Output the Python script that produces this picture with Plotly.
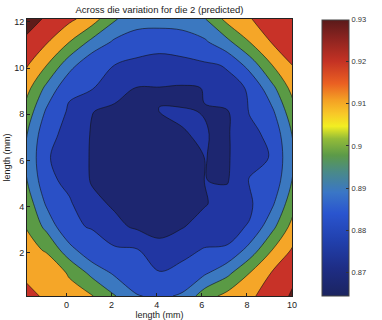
import plotly.graph_objects as go

# Grid coordinates (mm)
X_MM = [-1.875, -0.875, 0.125, 1.125, 2.125, 3.125, 4.125, 5.125, 6.125, 7.125, 8.125, 9.125, 10.125]
Y_MM = [12.125, 11.125, 10.125, 9.125, 8.125, 7.125, 6.125, 5.125, 4.125, 3.125, 2.125, 1.125, 0.125]

# Predicted value on the die (rows listed top -> bottom, matching Y_MM)
Z = [
    [.9244, .9188, .9138, .9081, .8965, .8930, .8930, .8935, .8955, .9065, .9115, .9165, .9190],
    [.9188, .9126, .9040, .8938, .8867, .8821, .8805, .8821, .8867, .8938, .9040, .9126, .9165],
    [.9138, .9040, .8910, .8815, .8800, .8790, .8795, .8788, .8789, .8805, .8910, .9040, .9125],
    [.9081, .8938, .8815, .8805, .8750, .8716, .8716, .8710, .8722, .8782, .8805, .8938, .9081],
    [.9026, .8867, .8789, .8722, .8705, .8690, .8721, .8722, .8719, .8714, .8805, .8867, .9026],
    [.8981, .8821, .8779, .8714, .8693, .8670, .8660, .8719, .8722, .8712, .8779, .8821, .8981],
    [.8966, .8805, .8775, .8712, .8685, .8660, .8650, .8660, .8721, .8712, .8775, .8805, .8966],
    [.8981, .8821, .8779, .8714, .8693, .8670, .8660, .8670, .8721, .8714, .8805, .8821, .8981],
    [.9026, .8867, .8810, .8740, .8710, .8690, .8685, .8693, .8714, .8753, .8789, .8867, .9026],
    [.9045, .8938, .8805, .8798, .8740, .8708, .8705, .8715, .8753, .8782, .8805, .8938, .9081],
    [.9075, .9030, .8910, .8815, .8812, .8805, .8735, .8779, .8805, .8805, .8910, .9040, .9138],
    [.9105, .9100, .9030, .8938, .8867, .8821, .8805, .8821, .8867, .8938, .9040, .9126, .9188],
    [.9150, .9105, .9075, .9045, .8966, .8885, .8865, .8890, .9005, .9065, .9105, .9160, .9215],
]

LEVEL_START = 0.872
LEVEL_END = 0.920
LEVEL_STEP = 0.008

CBAR_MIN = 0.8645
CBAR_MAX = 0.93
CBAR_TICKS = [0.87, 0.88, 0.89, 0.90, 0.91, 0.92, 0.93]
CBAR_TICKTEXT = ["0.87", "0.88", "0.89", "0.9", "0.91", "0.92", "0.93"]

X_TICKS = [0, 2, 4, 6, 8, 10]
Y_TICKS = [2, 4, 6, 8, 10, 12]

BAND_COLORS = ["#1d2670", "#2136a2", "#2a50c6", "#3b78c0", "#5a9a45", "#f5a628", "#c83228", "#5e1c1a"]
n = len(BAND_COLORS) - 1
band_scale = [[i / n, c] for i, c in enumerate(BAND_COLORS)]

JET = [
    [0.0, "#1b2460"], [0.10, "#1e2d85"], [0.20, "#2140ad"], [0.30, "#2a55cf"],
    [0.375, "#3a76c6"], [0.45, "#4a8a88"], [0.51, "#5c9a48"], [0.57, "#94bc38"],
    [0.615, "#f2ee22"], [0.66, "#f8c828"], [0.71, "#f4a024"], [0.77, "#ea6022"],
    [0.85, "#c43224"], [0.93, "#8e2420"], [1.0, "#5a1a1a"],
]

FONT = "Liberation Sans, Arial, sans-serif"

fig = go.Figure()
fig.add_trace(go.Contour(
    x=X_MM, y=Y_MM, z=Z,
    contours=dict(start=LEVEL_START, end=LEVEL_END, size=LEVEL_STEP, coloring="fill"),
    colorscale=band_scale,
    line=dict(color="#111111", width=0.6, smoothing=1.0),
    showscale=False,
    hoverinfo="skip",
))
fig.add_trace(go.Scatter(
    x=[None], y=[None], mode="markers", showlegend=False, hoverinfo="skip",
    marker=dict(
        color=[CBAR_MIN], cmin=CBAR_MIN, cmax=CBAR_MAX, colorscale=JET, showscale=True,
        colorbar=dict(
            x=1.112, xanchor="left", xref="paper",
            y=0.5, yanchor="middle",
            thickness=27, len=276, lenmode="pixels",
            xpad=0, ypad=0,
            outlinewidth=1, outlinecolor="#444444",
            tickvals=CBAR_TICKS, ticktext=CBAR_TICKTEXT,
            ticks="inside", ticklen=3, tickcolor="#333333",
            tickfont=dict(family=FONT, size=7.5, color="#333333"),
        ),
    ),
))

fig.update_layout(
    width=382, height=320,
    margin=dict(l=27, r=79, t=19, b=24),
    paper_bgcolor="white", plot_bgcolor="white",
    font=dict(family=FONT, size=9, color="#222222"),
    title=dict(text="Across die variation for die 2 (predicted)", x=0.5, xref="paper",
               y=1 - 10 / 320, yref="container", yanchor="middle",
               font=dict(family=FONT, size=9.5, color="#222222")),
    showlegend=False,
)
fig.update_xaxes(
    range=[-1.75, 10.0], tickvals=X_TICKS, ticks="inside", ticklen=3, tickcolor="#222",
    showline=True, mirror=True, linecolor="#222222", linewidth=1, showgrid=False, zeroline=False,
    title=dict(text="length (mm)", standoff=2, font=dict(size=9)), automargin=False,
)
fig.update_yaxes(
    range=[0.125, 12.125], tickvals=Y_TICKS, ticks="inside", ticklen=3, tickcolor="#222",
    showline=True, mirror=True, linecolor="#222222", linewidth=1, showgrid=False, zeroline=False,
    title=dict(text="length (mm)", standoff=2, font=dict(size=9)), automargin=False,
)

fig.write_html("out.html")
